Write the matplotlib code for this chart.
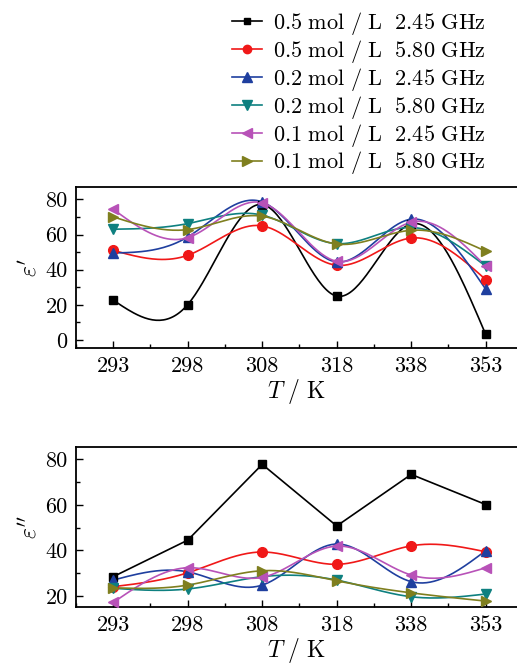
import matplotlib

matplotlib.use("Agg")
import matplotlib.pyplot as plt  # noqa: E402
import numpy as np
from matplotlib.ticker import MultipleLocator

plt.rcParams["mathtext.fontset"] = "cm"
plt.rcParams["font.family"] = "serif"
plt.rcParams["font.serif"] = ["cmr10", "DejaVu Serif"]
plt.rcParams["axes.unicode_minus"] = False

temps = ["293", "298", "308", "318", "338", "353"]
labels = [
    r"$\mathrm{0.5\ mol\ /\ L\ \ 2.45\ GHz}$",
    r"$\mathrm{0.5\ mol\ /\ L\ \ 5.80\ GHz}$",
    r"$\mathrm{0.2\ mol\ /\ L\ \ 2.45\ GHz}$",
    r"$\mathrm{0.2\ mol\ /\ L\ \ 5.80\ GHz}$",
    r"$\mathrm{0.1\ mol\ /\ L\ \ 2.45\ GHz}$",
    r"$\mathrm{0.1\ mol\ /\ L\ \ 5.80\ GHz}$",
]
colors = ["#000000", "#f01818", "#1f3f9f", "#0e8080", "#b852b8", "#7f7f1f"]
markers = ["s", "o", "^", "v", "<", ">"]
msizes = [6, 7, 7.5, 7.5, 7.5, 7.5]

# epsilon' (real part)
eps1_05_245 = [22.7, 20.2, 77.0, 25.0, 66.0, 3.2]
eps1_05_580 = [51.0, 48.2, 64.9, 42.5, 58.0, 34.4]
eps1_02_245 = [49.5, 58.6, 78.5, 44.4, 68.7, 28.9]
eps1_02_580 = [63.0, 66.2, 71.0, 54.8, 64.0, 42.0]
eps1_01_245 = [74.3, 58.2, 78.0, 44.8, 67.0, 42.0]
eps1_01_580 = [70.0, 62.8, 70.4, 54.6, 62.4, 50.5]

# epsilon'' (imaginary part)
eps2_05_245 = [28.5, 44.5, 77.7, 50.7, 73.3, 60.1]
eps2_05_580 = [24.1, 30.2, 39.3, 33.9, 42.0, 39.4]
eps2_02_245 = [27.0, 30.6, 24.8, 42.8, 26.3, 39.9]
eps2_02_580 = [23.4, 23.1, 28.5, 27.0, 19.7, 20.9]
eps2_01_245 = [17.2, 32.4, 28.2, 41.9, 29.2, 32.4]
eps2_01_580 = [23.6, 24.8, 31.1, 26.7, 21.4, 17.8]

eps1 = [eps1_05_245, eps1_05_580, eps1_02_245, eps1_02_580, eps1_01_245, eps1_01_580]
eps2 = [eps2_05_245, eps2_05_580, eps2_02_245, eps2_02_580, eps2_01_245, eps2_01_580]


def spline(x, y, n=40):
    # natural cubic spline through the points, for the smoothed connecting line
    x = np.asarray(x, float)
    y = np.asarray(y, float)
    k = len(x)
    h = np.diff(x)
    A = np.zeros((k, k))
    r = np.zeros(k)
    A[0, 0] = A[-1, -1] = 1
    for i in range(1, k - 1):
        A[i, i - 1] = h[i - 1]
        A[i, i] = 2 * (h[i - 1] + h[i])
        A[i, i + 1] = h[i]
        r[i] = 3 * ((y[i + 1] - y[i]) / h[i] - (y[i] - y[i - 1]) / h[i - 1])
    c = np.linalg.solve(A, r)
    xs, ys = [], []
    for i in range(k - 1):
        b = (y[i + 1] - y[i]) / h[i] - h[i] * (2 * c[i] + c[i + 1]) / 3
        d = (c[i + 1] - c[i]) / (3 * h[i])
        t = np.linspace(0, h[i], n, endpoint=(i == k - 2))
        xs.append(x[i] + t)
        ys.append(y[i] + b * t + c[i] * t**2 + d * t**3)
    return np.concatenate(xs), np.concatenate(ys)


fig = plt.figure(figsize=(5.17, 6.65), dpi=100)
ax1 = fig.add_axes([0.147, 0.4767, 0.853, 0.2421])
ax2 = fig.add_axes([0.147, 0.0872, 0.853, 0.2406])
xi = np.arange(len(temps))

handles = []
for i in range(6):
    sx, sy = spline(xi, eps1[i])
    ax1.plot(sx, sy, color=colors[i], lw=1.2, zorder=2)
    ax1.plot(xi, eps1[i], ls="none", marker=markers[i], ms=msizes[i], color=colors[i], zorder=3)
    if i == 0:
        ax2.plot(xi, eps2[i], color=colors[i], lw=1.2, zorder=2)
    else:
        sx, sy = spline(xi, eps2[i])
        ax2.plot(sx, sy, color=colors[i], lw=1.2, zorder=2)
    ax2.plot(xi, eps2[i], ls="none", marker=markers[i], ms=msizes[i], color=colors[i], zorder=3)
    (h,) = ax1.plot([], [], color=colors[i], lw=1.2, marker=markers[i], ms=msizes[i] - 1, label=labels[i])
    handles.append(h)

for ax, lab, ylim, ticks in [
    (ax1, r"$\varepsilon'$", (-4.5, 87), [0, 20, 40, 60, 80]),
    (ax2, r"$\varepsilon''$", (15.2, 85.3), [20, 40, 60, 80]),
]:
    ax.set_xlim(-0.5, 5.42)
    ax.set_ylim(*ylim)
    ax.set_xticks(xi)
    ax.set_xticklabels(temps)
    ax.xaxis.set_minor_locator(MultipleLocator(0.5))
    ax.set_yticks(ticks)
    ax.yaxis.set_minor_locator(MultipleLocator(10))
    ax.tick_params(which="both", direction="in", top=False, right=False, labelsize=16, pad=6)
    ax.tick_params(which="major", length=5, width=1)
    ax.tick_params(which="minor", length=3, width=1)
    for s in ax.spines.values():
        s.set_linewidth(1.3)
    ax.spines["right"].set_visible(False)
    ax.set_ylabel(lab, fontsize=17, labelpad=3)
    ax.set_xlabel(r"$T\ /\ \mathrm{K}$", fontsize=17, labelpad=1)

fig.legend(
    handles=handles,
    loc="upper left",
    bbox_to_anchor=(0.41, 1.015),
    frameon=False,
    fontsize=16,
    handlelength=1.35,
    handletextpad=0.5,
    labelspacing=0.04,
)

fig.savefig("out.png", dpi=100)
